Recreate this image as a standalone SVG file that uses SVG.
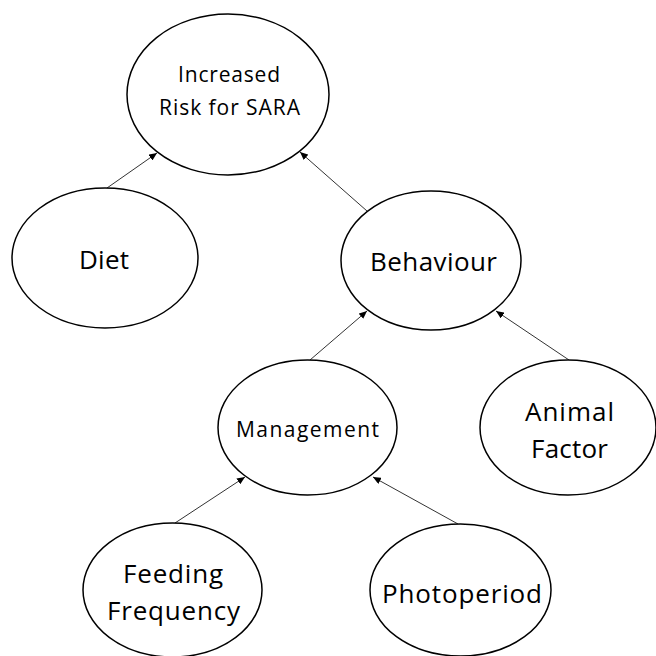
<svg xmlns="http://www.w3.org/2000/svg" width="656" height="656" viewBox="0 0 656 656">
  <defs>
    <marker id="arrow" markerWidth="8" markerHeight="7" refX="8" refY="3.5" orient="auto" markerUnits="userSpaceOnUse">
      <path d="M0,0 L8,3.5 L0,7 z" fill="#000"/>
    </marker>
    <style>
      .node ellipse { fill: #fff; stroke: #000; stroke-width: 1.5; }
      .node text { font-family: "Open Sans", "Liberation Sans", sans-serif; fill: #000; text-anchor: middle; }
      .lg { font-size: 26px; }
      .sm { font-size: 21px; }
      .edges line { stroke: #333; stroke-width: 1; marker-end: url(#arrow); }
    </style>
  </defs>
  <rect width="656" height="656" fill="#fff"/>

  <g id="connectors" class="edges">
    <line x1="107" y1="188" x2="157" y2="153"/>
    <line x1="367" y1="211" x2="300" y2="152"/>
    <line x1="310" y1="360" x2="367" y2="311"/>
    <line x1="569" y1="360" x2="496" y2="311"/>
    <line x1="175" y1="523" x2="245" y2="477"/>
    <line x1="458" y1="524" x2="373" y2="477"/>
  </g>

  <g id="increased-risk" class="node">
    <ellipse cx="228" cy="94.5" rx="101" ry="80.5"/>
    <text class="sm" x="229" y="82" textLength="102">Increased</text>
    <text class="sm" x="229.5" y="115" textLength="141">Risk for SARA</text>
  </g>

  <g id="diet" class="node">
    <ellipse cx="105" cy="258" rx="93" ry="70"/>
    <text class="lg" x="104" y="269" textLength="50">Diet</text>
  </g>

  <g id="behaviour" class="node">
    <ellipse cx="431" cy="260.5" rx="90" ry="69.5"/>
    <text class="lg" x="433.5" y="271" textLength="127">Behaviour</text>
  </g>

  <g id="management" class="node">
    <ellipse cx="307.5" cy="427.5" rx="89.5" ry="67.5"/>
    <text class="sm" x="307.5" y="437" textLength="143">Management</text>
  </g>

  <g id="animal-factor" class="node">
    <ellipse cx="568" cy="427.5" rx="88" ry="67.5"/>
    <text class="lg" x="569.5" y="421" textLength="89">Animal</text>
    <text class="lg" x="569.5" y="458" textLength="77">Factor</text>
  </g>

  <g id="feeding-frequency" class="node">
    <ellipse cx="172.5" cy="590" rx="89.5" ry="67"/>
    <text class="lg" x="173" y="583" textLength="100">Feeding</text>
    <text class="lg" x="173.5" y="620" textLength="133">Frequency</text>
  </g>

  <g id="photoperiod" class="node">
    <ellipse cx="460.5" cy="590" rx="90.5" ry="66"/>
    <text class="lg" x="462" y="603" textLength="160">Photoperiod</text>
  </g>
</svg>
